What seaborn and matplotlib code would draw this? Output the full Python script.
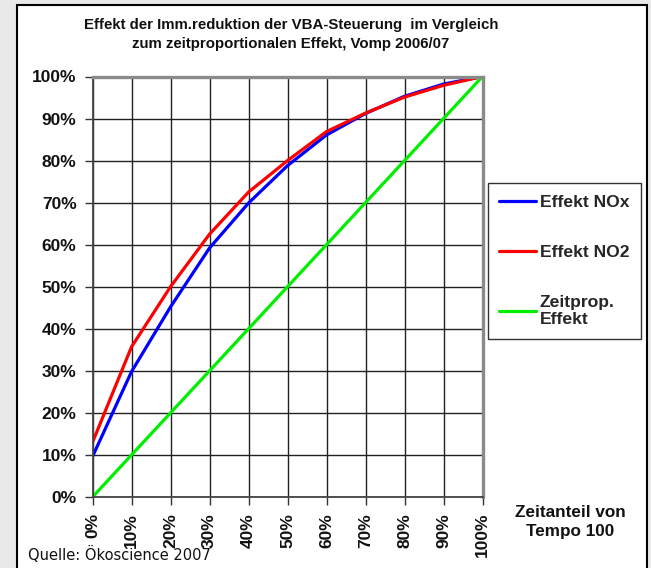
import numpy as np
import pandas as pd
import matplotlib
matplotlib.use("Agg")
import matplotlib.pyplot as plt
import seaborn as sns
from matplotlib.patches import Rectangle
from matplotlib.ticker import PercentFormatter

# ---------------------------------------------------------
# DATA
# ---------------------------------------------------------
zeitanteil = [0.0, 0.1, 0.2, 0.3, 0.4, 0.5, 0.6, 0.7, 0.8, 0.9, 1.0]
effekt_nox = [0.096, 0.298, 0.452, 0.592, 0.699, 0.788, 0.861, 0.912, 0.953, 0.982, 1.0]
effekt_no2 = [0.13, 0.357, 0.50, 0.625, 0.725, 0.80, 0.869, 0.913, 0.951, 0.979, 1.0]
zeitprop = [0.0, 0.1, 0.2, 0.3, 0.4, 0.5, 0.6, 0.7, 0.8, 0.9, 1.0]

serien = ["Effekt NOx", "Effekt NO2", "Zeitprop.\nEffekt"]
farben = ["#0000ff", "#ff0000", "#00ee00"]
ticks = [0.0, 0.1, 0.2, 0.3, 0.4, 0.5, 0.6, 0.7, 0.8, 0.9, 1.0]

df = pd.DataFrame({
    "Zeitanteil": zeitanteil * 3,
    "Effekt": effekt_nox + effekt_no2 + zeitprop,
    "Serie": [serien[0]] * len(zeitanteil) + [serien[1]] * len(zeitanteil) + [serien[2]] * len(zeitanteil),
})

# ---------------------------------------------------------
# STYLE
# ---------------------------------------------------------
sns.set_style("white")
plt.rcParams["font.family"] = ["Liberation Sans", "DejaVu Sans"]

W, H = 651, 568
fig = plt.figure(figsize=(W / 100, H / 100), dpi=100, facecolor="#e9e9e9")

# white panel with black frame
panel = Rectangle((17 / W, -0.05), (647 - 17) / W, 1.05 - 5.5 / H,
                  transform=fig.transFigure, facecolor="white",
                  edgecolor="black", linewidth=1.5, zorder=-10)
fig.patches.append(panel)

ax = fig.add_axes([92.5 / W, 1 - 497 / H, (482.5 - 92.5) / W, (497 - 76.5) / H])
ax.set_facecolor("white")

# ---------------------------------------------------------
# PLOT
# ---------------------------------------------------------
sns.lineplot(data=df, x="Zeitanteil", y="Effekt", hue="Serie", hue_order=serien,
             palette=farben, linewidth=2.3, ax=ax, legend=False,
             solid_joinstyle="round", solid_capstyle="round")

ax.set_xlim(0, 1)
ax.set_ylim(0, 1)
ax.set_xticks(ticks)
ax.set_yticks(ticks)
ax.xaxis.set_major_formatter(PercentFormatter(1.0, decimals=0))
ax.yaxis.set_major_formatter(PercentFormatter(1.0, decimals=0))
ax.grid(True, color="#222222", linewidth=1.0)
ax.set_axisbelow(True)
ax.set_xlabel("")
ax.set_ylabel("")

for lbl in ax.get_xticklabels():
    lbl.set_rotation(90)
for lbl in ax.get_xticklabels() + ax.get_yticklabels():
    lbl.set_fontweight("bold")
    lbl.set_fontsize(12.5)
    lbl.set_color("#111111")

ax.tick_params(axis="both", which="major", length=6, width=1, color="#333333",
               bottom=True, left=True)
ax.tick_params(axis="y", pad=5.5)
ax.tick_params(axis="x", pad=5.5)

for side in ["left", "bottom"]:
    ax.spines[side].set_color("#444444")
    ax.spines[side].set_linewidth(1.3)
for side in ["top", "right"]:
    ax.spines[side].set_color("#8a8a8a")
    ax.spines[side].set_linewidth(2.4)

# legend
handles = ax.get_lines()[:3]
leg = fig.legend(handles, serien, loc="upper left",
                 bbox_to_anchor=(488 / W, 1 - 183 / H),
                 frameon=True, fancybox=False, edgecolor="black",
                 prop={"weight": "bold", "size": 12.6},
                 handlelength=2.1, handletextpad=0.2, labelspacing=2.0,
                 borderpad=0.65, borderaxespad=0)
leg.get_frame().set_linewidth(1.0)
for t in leg.get_texts():
    t.set_linespacing(1.2)

# texts
fig.text(291 / W, 1 - 34.5 / H,
         "Effekt der Imm.reduktion der VBA-Steuerung  im Vergleich\nzum zeitproportionalen Effekt, Vomp 2006/07",
         ha="center", va="center", fontsize=10.8, fontweight="bold",
         linespacing=1.5, color="#111111")
fig.text(570.5 / W, 1 - 522 / H, "Zeitanteil von\nTempo 100",
         ha="center", va="center", fontsize=12.3, fontweight="bold",
         linespacing=1.3, color="#111111")
fig.text(28 / W, 1 - 554 / H, "Quelle: Ökoscience 2007",
         ha="left", va="center", fontsize=10.5, family=["DejaVu Sans"],
         color="#111111")

fig.savefig("out.png", dpi=100, facecolor=fig.get_facecolor())
